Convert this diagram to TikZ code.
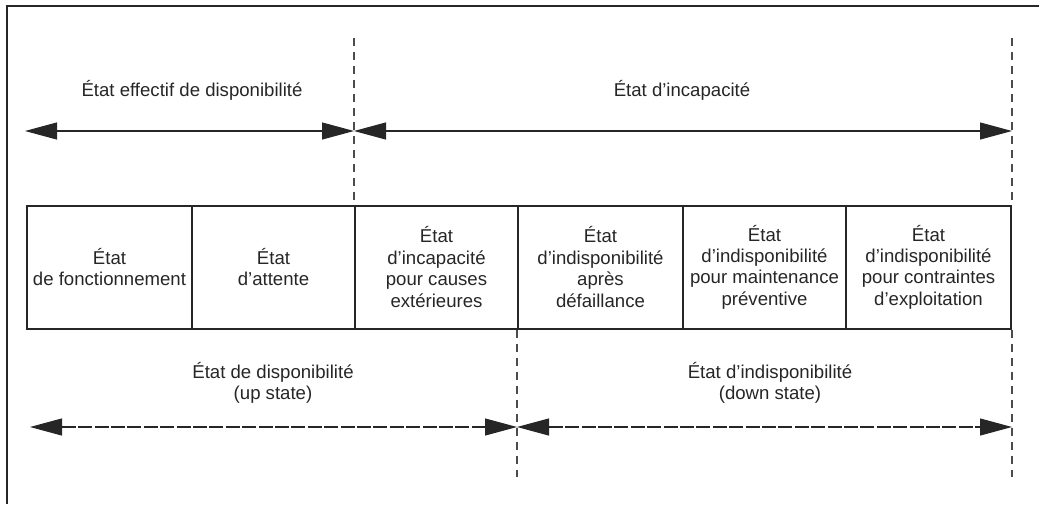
\documentclass[tikz,border=0pt]{standalone}
\usepackage{fontspec}
\setmainfont{Liberation Sans}
\usetikzlibrary{arrows.meta}

\begin{document}
\begin{tikzpicture}[x=0.5pt,y=-0.5pt,
  txt/.style={font=\fontsize{9.3}{10.7}\selectfont, align=center, inner sep=0pt, text=black!85},
  cell/.style={txt, draw=black!85, line width=1pt, minimum height=61.5pt, inner sep=0pt},
  span/.style={draw=black!85, line width=0.55pt, {Triangle[length=16pt,width=8.5pt]}-{Triangle[length=16pt,width=8.5pt]}},
  spanb/.style={span, dash pattern=on 7pt off 1.2pt},
  bound/.style={draw=black!70, line width=0.6pt, dash pattern=on 4pt off 3pt},
  frame/.style={draw=black!85, line width=1.3pt}]
\useasboundingbox (0,0) rectangle (1039,504);

% frame of the figure
\draw[frame] (1039,6) -- (7,6) -- (7,504);

% row of elementary states
\node[cell, minimum width=82.5pt] (c1) at (109.5,267) {État\\de fonctionnement};
\node[cell, minimum width=81.5pt] (c2) at (273.5,267) {État\\d’attente};
\node[cell, minimum width=81.5pt] (c3) at (436.5,267) {État\\d’incapacité\\pour causes\\extérieures};
\node[cell, minimum width=82.5pt] (c4) at (600.5,267) {État\\d’indisponibilité\\après\\défaillance};
\node[cell, minimum width=81.5pt] (c5) at (764.5,267) {État\\d’indisponibilité\\pour maintenance\\préventive};
\node[cell, minimum width=82.5pt] (c6) at (928.5,267) {État\\d’indisponibilité\\pour contraintes\\d’exploitation};

% upper spans
\coordinate (uL) at (25,131);
\coordinate (uM) at (c3.north west |- uL);
\coordinate (uR) at (c6.north east |- uL);
\coordinate (t1) at (c3.north west |- 0,38);
\coordinate (t2) at (c6.north east |- 0,38);
\draw[bound] (t1) -- (c3.north west);
\draw[bound] (t2) -- (c6.north east);
\draw[span] (uL) -- (uM);
\draw[span] (uM) -- (uR);
\node[txt] (effectif) at (192,90) {État effectif de disponibilité};
\node[txt] (incap) at (682,90) {État d’incapacité};

% lower spans
\coordinate (lL) at (30,427);
\coordinate (lM) at (c4.south west |- lL);
\coordinate (lR) at (c6.south east |- lL);
\coordinate (b1) at (c4.south west |- 0,477);
\coordinate (b2) at (c6.south east |- 0,477);
\draw[bound] (c4.south west) -- (b1);
\draw[bound] (c6.south east) -- (b2);
\draw[spanb] (lL) -- (lM);
\draw[spanb] (lM) -- (lR);
\node[txt] (up) at (273,383) {État de disponibilité\\(up state)};
\node[txt] (down) at (770,383) {État d’indisponibilité\\(down state)};
\end{tikzpicture}
\end{document}
